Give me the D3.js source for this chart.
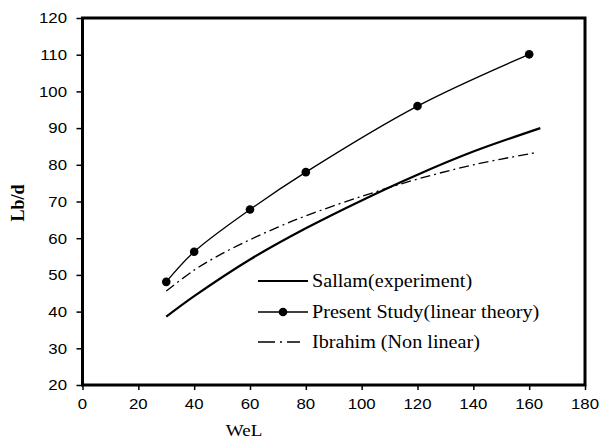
<!DOCTYPE html>
<html><head><meta charset="utf-8">
<script src="https://cdn.jsdelivr.net/npm/d3@7"></script>
<style>html,body{margin:0;padding:0;background:#fff;}svg{display:block;}</style>
</head><body>
<svg id="chart" width="599" height="441"></svg>
<script>
// Data
const xTicks = [0, 20, 40, 60, 80, 100, 120, 140, 160, 180];
const yTicks = [20, 30, 40, 50, 60, 70, 80, 90, 100, 110, 120];
const sallamX = [30, 40, 60, 80, 100, 120, 140, 164];
const sallamY = [38.6, 44.2, 54.2, 62.7, 70.3, 77.3, 83.6, 90.0];
const presentX = [30, 40, 60, 80, 120, 160];
const presentY = [48.1, 56.3, 67.8, 78.0, 96.0, 110.1];
const ibrahimX = [30, 40, 50, 60, 70, 80, 100, 120, 140, 163];
const ibrahimY = [45.6, 51.3, 55.8, 59.6, 63.0, 66.1, 71.4, 76.1, 80.0, 83.4];
const seriesNames = ["Sallam(experiment)", "Present Study(linear theory)", "Ibrahim (Non linear)"];

const svg = d3.select("#chart");
const x = d3.scaleLinear().domain([0, 180]).range([82.5, 585]);
const y = d3.scaleLinear().domain([20, 120]).range([385, 18]);
const SX = 1.12;
const serif = "'Liberation Serif','Times New Roman',serif";
const sans = "'Liberation Sans',Arial,sans-serif";

function txt(g, px, py, s, anchor, size, fam, weight) {
  return g.append("text")
    .attr("transform", `translate(${px},${py}) scale(${SX},1)`)
    .attr("text-anchor", anchor)
    .style("font-family", fam)
    .attr("font-size", size)
    .attr("font-weight", weight || "normal")
    .attr("fill", "#000")
    .text(s);
}

// Axes with ticks
const xAxis = svg.append("g").attr("transform", "translate(0,385)")
  .call(d3.axisBottom(x).tickValues(xTicks).tickSize(5).tickFormat(""));
const yAxis = svg.append("g").attr("transform", "translate(82.5,0)")
  .call(d3.axisLeft(y).tickValues(yTicks).tickSize(6).tickFormat(""));
[xAxis, yAxis].forEach(a => {
  a.select(".domain").remove();
  a.selectAll(".tick line").attr("stroke", "#000").attr("stroke-width", 1.5);
});

// Tick labels
xTicks.forEach(v => txt(svg, x(v), 408.5, String(v), "middle", 15, sans));
yTicks.forEach(v => txt(svg, 67, y(v) + 5.3, String(v), "end", 15, sans));

// Frame
svg.append("rect").attr("x", x(0)).attr("y", y(120))
  .attr("width", x(180) - x(0)).attr("height", y(20) - y(120))
  .attr("fill", "none").attr("stroke", "#000").attr("stroke-width", 3);

// Lines
const line = d3.line().x(d => x(d[0])).y(d => y(d[1])).curve(d3.curveCatmullRom.alpha(0.5));
const sallam = sallamX.map((v, i) => [v, sallamY[i]]);
const present = presentX.map((v, i) => [v, presentY[i]]);
const ibrahim = ibrahimX.map((v, i) => [v, ibrahimY[i]]);

svg.append("path").attr("d", line(ibrahim)).attr("fill", "none")
  .attr("stroke", "#000").attr("stroke-width", 1.3).attr("stroke-dasharray", "10,4,2,4");
svg.append("path").attr("d", line(sallam)).attr("fill", "none")
  .attr("stroke", "#000").attr("stroke-width", 2.2);
svg.append("path").attr("d", line(present)).attr("fill", "none")
  .attr("stroke", "#000").attr("stroke-width", 1.3);
svg.selectAll("circle.pt").data(present).enter().append("circle")
  .attr("class", "pt").attr("cx", d => x(d[0])).attr("cy", d => y(d[1]))
  .attr("r", 4.3).attr("fill", "#000");

// Legend
const lg = svg.append("g");
const ly = [281, 312, 342];
lg.append("line").attr("x1", 258).attr("x2", 308).attr("y1", ly[0]).attr("y2", ly[0])
  .attr("stroke", "#000").attr("stroke-width", 2.2);
lg.append("line").attr("x1", 258).attr("x2", 308).attr("y1", ly[1]).attr("y2", ly[1])
  .attr("stroke", "#000").attr("stroke-width", 1.3);
lg.append("circle").attr("cx", 283).attr("cy", ly[1]).attr("r", 4.3).attr("fill", "#000");
lg.append("line").attr("x1", 258).attr("x2", 300).attr("y1", ly[2]).attr("y2", ly[2])
  .attr("stroke", "#000").attr("stroke-width", 1.3).attr("stroke-dasharray", "17,5,2,5");
seriesNames.forEach((n, i) => txt(lg, 312, ly[i] + 6.3, n, "start", 18, serif));

// Axis titles
txt(svg, 244, 436, "WeL", "middle", 17, serif);
svg.append("text")
  .attr("transform", "translate(24,203) rotate(-90)")
  .attr("text-anchor", "middle")
  .style("font-family", serif).attr("font-size", 18).attr("font-weight", "bold")
  .text("Lb/d");
</script>
</body></html>
